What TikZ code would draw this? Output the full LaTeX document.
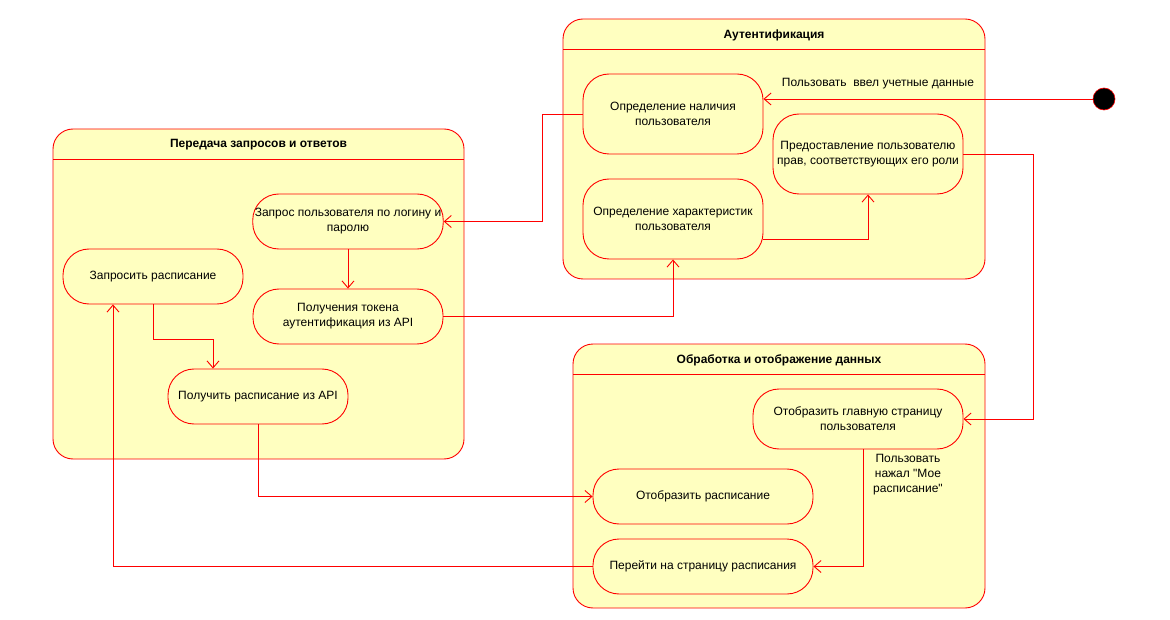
\documentclass[tikz,border=0pt]{standalone}
\usepackage{fontspec}
\setmainfont{Liberation Sans}
% same family without the TeX input mapping, so that " stays a straight quote
\newfontfamily\plainsans{Liberation Sans}
\newcommand{\sq}{{\plainsans"}}
\usetikzlibrary{arrows.meta}
\definecolor{stateFill}{HTML}{FFFFC0}
\definecolor{lineRed}{HTML}{FF0000}
\tikzset{
  group/.style={draw=lineRed, fill=stateFill, rounded corners=20pt, line width=0.9pt},
  grouptitle/.style={font=\fontsize{12}{14}\selectfont\bfseries, inner sep=0pt},
  state/.style={draw=lineRed, fill=stateFill, rounded corners=26pt, line width=0.9pt,
    align=center, inner sep=2pt, font=\fontsize{12}{15}\selectfont},
  flow/.style={draw=lineRed, line width=0.9pt, -{Straight Barb[length=7pt,width=12pt,line width=0.9pt]}},
  lbl/.style={font=\fontsize{12}{15}\selectfont, align=center, inner sep=0pt},
}
\begin{document}
\begin{tikzpicture}[x=1pt,y=-1pt]
\path[use as bounding box, fill=white] (0,0) rectangle (1170,620);

% containers
\draw[group] (563,19) rectangle (985,279);
\draw[lineRed, line width=0.9pt] (563,49) -- (985,49);
\node[grouptitle] (tAuth) at (774,35) {Аутентификация};

\draw[group] (53,129) rectangle (464,459);
\draw[lineRed, line width=0.9pt] (53,159) -- (464,159);
\node[grouptitle] (tReq) at (258.5,145) {Передача запросов и ответов};

\draw[group] (573,344) rectangle (985,608);
\draw[lineRed, line width=0.9pt] (573,374) -- (985,374);
\node[grouptitle] (tProc) at (779,360) {Обработка и отображение данных};

% states
\node[state, minimum width=180pt, minimum height=80pt] (nalich) at (673,114) {Определение наличия\\пользователя};
\node[state, minimum width=190pt, minimum height=80pt] (prav) at (868,154) {Предоставление пользователю\\прав, соответствующих его роли};
\node[state, minimum width=180pt, minimum height=80pt] (harakt) at (673,219) {Определение характеристик\\пользователя};

\node[state, minimum width=190pt, minimum height=55pt] (zapros) at (348,221.5) {Запрос пользователя по логину и\\паролю};
\node[state, minimum width=190pt, minimum height=55pt] (token) at (348,316.5) {Получения токена\\аутентификация из API};
\node[state, minimum width=180pt, minimum height=55pt] (zaprosit) at (153,276.5) {Запросить расписание};
\node[state, minimum width=180pt, minimum height=55pt] (poluchit) at (258,396.5) {Получить расписание из API};

\node[state, minimum width=210pt, minimum height=60pt] (glavn) at (858,419) {Отобразить главную страницу\\пользователя};
\node[state, minimum width=220pt, minimum height=55pt] (otobr) at (703,496.5) {Отобразить расписание};
\node[state, minimum width=220pt, minimum height=55pt] (pereiti) at (703,566.5) {Перейти на страницу расписания};

% initial state
\node[circle, fill=black, draw=lineRed, line width=0.6pt, minimum size=22pt, inner sep=0pt] (start) at (1104,99) {};

% transitions
\draw[flow] (start.west) -- (nalich.east |- start.west);
\node[lbl] (lEnter) at (878,84) {Пользовать\ \ ввел учетные данные};

\draw[flow] (nalich.west) -- ++(-40,0) |- (zapros.east);
\draw[flow] (zapros.south) -- (token.north);
\draw[flow] (token.east) -| (harakt.south);
\draw[flow] ([yshift=-20pt]harakt.east) -| (prav.south);
\draw[flow] (prav.east) -- ++(70,0) |- (glavn.east);
\draw[flow] ([xshift=5pt]glavn.south) |- (pereiti.east);
\node[lbl, anchor=north west] (lClick) at (873,454) {Пользовать\\нажал \sq Мое\\расписание\sq};
\draw[flow] (pereiti.west) -| ([xshift=-40pt]zaprosit.south);
\draw[flow] (zaprosit.south) -- ++(0,35) -| ([xshift=-45pt]poluchit.north);
\draw[flow] (poluchit.south) |- (otobr.west);
\end{tikzpicture}
\end{document}
